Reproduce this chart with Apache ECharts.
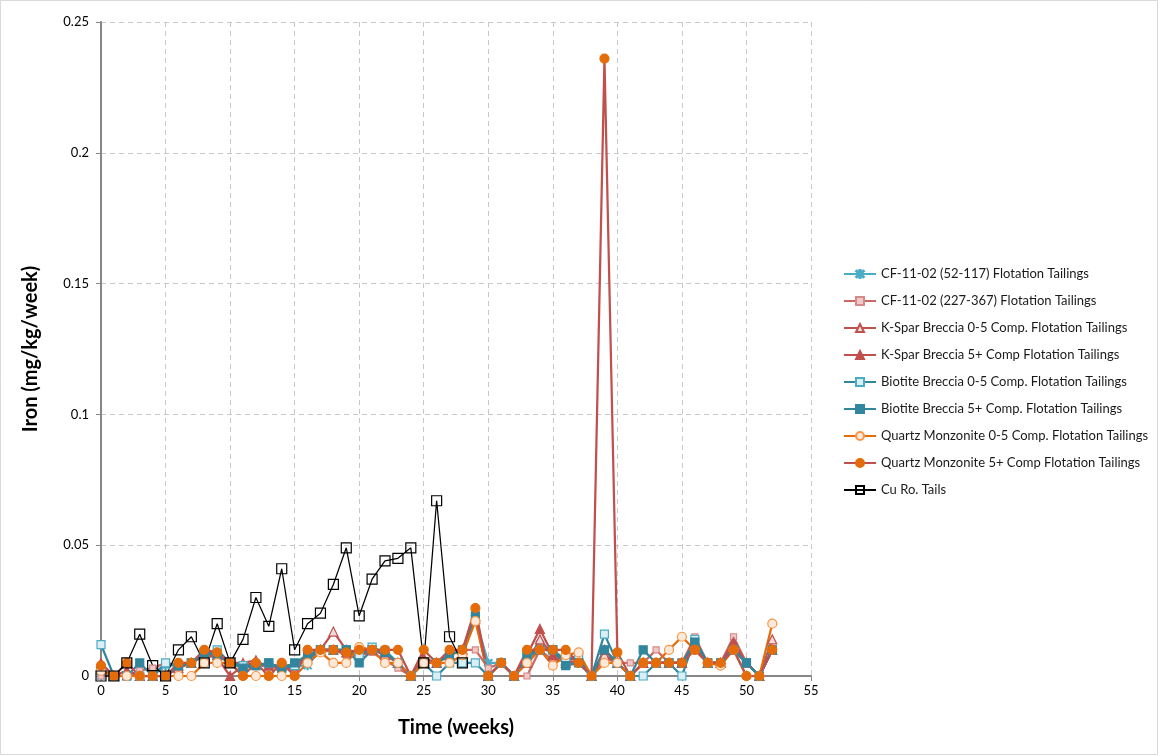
<!DOCTYPE html>
<html>
<head>
<meta charset="utf-8">
<script src="https://cdn.jsdelivr.net/npm/echarts@6/dist/echarts.min.js"></script>
<style>
  html, body { margin: 0; padding: 0; background: #ffffff; }
  #chart { width: 1159px; height: 756px; }
</style>
</head>
<body>
<div id="chart"></div>
<script>
// Weekly iron release (mg/kg/week) from kinetic test cells
const weeks = [0,1,2,3,4,5,6,7,8,9,10,11,12,13,14,15,16,17,18,19,20,21,22,23,24,25,26,
  27,28,29,30,31,32,33,34,35,36,37,38,39,40,41,42,43,44,45,46,47,48,49,50,51,52];
const cuWeeks = [0,1,2,3,4,5,6,7,8,9,10,11,12,13,14,15,16,17,18,19,20,21,22,23,24,25,26,27,28];

const seriesNames = [
  'CF-11-02 (52-117) Flotation Tailings',
  'CF-11-02 (227-367) Flotation Tailings',
  'K-Spar Breccia 0-5 Comp. Flotation Tailings',
  'K-Spar Breccia 5+ Comp Flotation Tailings',
  'Biotite Breccia 0-5 Comp. Flotation Tailings',
  'Biotite Breccia 5+ Comp. Flotation Tailings',
  'Quartz Monzonite 0-5 Comp. Flotation Tailings',
  'Quartz Monzonite 5+ Comp Flotation Tailings',
  'Cu Ro. Tails'
];

const cf52 = [0,0,0,0,0,0.004,0.004,0.005,0.008,0.009,0.005,0.004,0.004,0.004,0.004,0.004,0.004,0.010,0.010,0.010,
  0.008,0.010,0.010,0.005,0,0.005,0.005,0.008,0.010,0.022,0.005,0.005,0,0.008,0.012,0.008,0.005,0.005,0,0.010,
  0.005,0,0.005,0.005,0.005,0.005,0.013,0.005,0.005,0.010,0.005,0,0.010];
const cf227 = [0,0,0,0.002,0.003,0.005,0.004,0.005,0.008,0.008,0.005,0.004,0.005,0.003,0.004,0.003,0.008,0.009,0.010,0.008,
  0.008,0.009,0.006,0.003,0,0.005,0.005,0.008,0.010,0.010,0.003,0.005,0,0,0.010,0.006,0.006,0.007,0,0.007,
  0.005,0.005,0.005,0.010,0.005,0.005,0.015,0.005,0.005,0.015,0.005,0,0.010];
const kspar05 = [0.004,0,0.002,0,0,0,0.003,0.005,0.008,0.008,0.005,0.005,0.006,0.003,0.004,0.002,0.008,0.010,0.017,0.010,
  0.009,0.010,0.008,0.005,0,0.005,0.005,0.008,0.010,0.022,0,0.005,0,0.005,0.014,0.008,0.006,0.007,0,0.008,
  0.005,0,0.005,0.005,0.005,0.005,0.012,0.005,0.005,0.012,0.005,0,0.014];
const kspar5p = [0.005,0,0.002,0,0,0,0.004,0.005,0.008,0.007,0,0.004,0.005,0.004,0.004,0.004,0.008,0.010,0.010,0.009,
  0.008,0.010,0.009,0.005,0,0.007,0.005,0.008,0.010,0.023,0,0.005,0,0.008,0.018,0.008,0.005,0.006,0,0.010,
  0.005,0,0.005,0.005,0.005,0.005,0.013,0.005,0.005,0.013,0.005,0,0.010];
const bio05 = [0.012,0,0,0,0,0.005,0.004,0.005,0.008,0.010,0.005,0.004,0.004,0.005,0.003,0.004,0.006,0.010,0.010,0.010,
  0.008,0.011,0.009,0.005,0,0.005,0,0.005,0.005,0.005,0,0.005,0,0.007,0.010,0.010,0.006,0.008,0,0.016,
  0.005,0,0,0.005,0.005,0,0.014,0.005,0.005,0.010,0.005,0,0.010];
const bio5p = [0.002,0,0,0.005,0,0,0.004,0.005,0.009,0.008,0.005,0.003,0.004,0.005,0.003,0.005,0.008,0.010,0.010,0.010,
  0.005,0.010,0.009,0.005,0,0.005,0.005,0.008,0.010,0.023,0,0.005,0,0.008,0.010,0.010,0.004,0.005,0,0.010,
  0.005,0,0.010,0.005,0.005,0.005,0.013,0.005,0.005,0.010,0.005,0,0.010];
const qm05 = [0.002,0,0,0,0,0,0,0,0.005,0.005,0.005,0,0,0,0,0,0.005,0.009,0.005,0.005,
  0.011,0.010,0.005,0.005,0,0.005,0.005,0.005,0.008,0.021,0,0.005,0,0.005,0.010,0.004,0.008,0.009,0,0.005,
  0.005,0,0.005,0.005,0.010,0.015,0.010,0.005,0.004,0.010,0,0,0.020];
const qm5p = [0.004,0,0.005,0,0,0,0.005,0.005,0.010,0.009,0.005,0,0.005,0,0.005,0,0.010,0.010,0.010,0.009,
  0.010,0.010,0.010,0.010,0,0.010,0.005,0.010,0.010,0.026,0,0.005,0,0.010,0.010,0.010,0.010,0.005,0,0.236,
  0.009,0,0.005,0.005,0.005,0.005,0.010,0.005,0.005,0.010,0,0,0.010];
const cuRo = [0,0,0.005,0.016,0.004,0,0.010,0.015,0.005,0.020,0.005,0.014,0.030,0.019,0.041,0.010,0.020,0.024,0.035,0.049,
  0.023,0.037,0.044,0.045,0.049,0.005,0.067,0.015,0.005];

const xTicks = [0, 5, 10, 15, 20, 25, 30, 35, 40, 45, 50, 55];
const yTicks = [0, 0.05, 0.1, 0.15, 0.2, 0.25];

const asterisk = 'path://M-0.6,-5L0.6,-5L0.6,5L-0.6,5Z' +
  'M-3.58,-4.42L4.42,3.58L3.58,4.42L-4.42,-3.58Z' +
  'M-3.58,4.42L4.42,-3.58L3.58,-4.42L-4.42,3.58Z';

function pairs(xs, ys) {
  return ys.map((v, i) => [xs[i], v]);
}

function lineSeries(name, xs, ys, lineColor, symbol, size, fill, border, width) {
  return {
    name: name,
    type: 'line',
    data: pairs(xs, ys),
    symbol: symbol,
    symbolSize: size,
    showAllSymbol: true,
    lineStyle: { color: lineColor, width: width },
    itemStyle: { color: fill, borderColor: border, borderWidth: 1.2 },
    emphasis: { disabled: true },
    animation: false
  };
}

const series = [
  lineSeries(seriesNames[0], weeks, cf52, '#4BACC6', asterisk, 8, '#4BACC6', '#4BACC6', 2.25),
  lineSeries(seriesNames[1], weeks, cf227, '#CD6764', 'rect', 6, '#F2C7C6', '#D48A88', 2.25),
  lineSeries(seriesNames[2], weeks, kspar05, '#C0504D', 'triangle', 9, '#F2DCDB', '#C0504D', 2.25),
  lineSeries(seriesNames[3], weeks, kspar5p, '#C0504D', 'triangle', 9, '#C0504D', '#C0504D', 2.25),
  lineSeries(seriesNames[4], weeks, bio05, '#31859C', 'rect', 8, '#DAEEF3', '#4BACC6', 2.25),
  lineSeries(seriesNames[5], weeks, bio5p, '#31859C', 'rect', 8, '#31859C', '#31859C', 2.25),
  lineSeries(seriesNames[6], weeks, qm05, '#E46C0A', 'circle', 9, '#FDE9D9', '#F79646', 2.25),
  lineSeries(seriesNames[7], weeks, qm5p, '#C0504D', 'circle', 9, '#E46C0A', '#E46C0A', 2.25),
  lineSeries(seriesNames[8], cuWeeks, cuRo, '#000000', 'rect', 10, 'rgba(0,0,0,0)', '#000000', 1.25)
];

const fontFamily = 'Lato, "Open Sans", sans-serif';

const chart = echarts.init(document.getElementById('chart'), null, { renderer: 'canvas' });
chart.setOption({
  backgroundColor: '#ffffff',
  animation: false,
  textStyle: { fontFamily: fontFamily },
  graphic: [{
    type: 'rect',
    shape: { x: 0.5, y: 0.5, width: 1157, height: 754 },
    style: { fill: 'none', stroke: '#D9D9D9', lineWidth: 1 },
    silent: true
  }],
  grid: { left: 101, right: 348, top: 22, bottom: 80, containLabel: false },
  legend: {
    orient: 'vertical',
    left: 838,
    top: 262,
    itemWidth: 32,
    itemHeight: 10,
    itemGap: 13,
    data: seriesNames,
    textStyle: { fontFamily: fontFamily, fontSize: 13, lineHeight: 14, color: '#1a1a1a' }
  },
  xAxis: {
    type: 'value',
    min: xTicks[0],
    max: xTicks[xTicks.length - 1],
    interval: 5,
    name: 'Time (weeks)',
    nameLocation: 'middle',
    nameGap: 42,
    nameTextStyle: { fontFamily: fontFamily, fontSize: 20, fontWeight: 'bold', color: '#000' },
    axisLine: { show: true, onZero: false, lineStyle: { color: '#868686', width: 2 } },
    axisTick: { show: true, length: 5, lineStyle: { color: '#868686' } },
    axisLabel: { fontFamily: fontFamily, fontSize: 13, color: '#000', margin: 8 },
    splitLine: { show: true, lineStyle: { color: '#C8C8C8', type: [5, 4], width: 1 } }
  },
  yAxis: {
    type: 'value',
    min: yTicks[0],
    max: yTicks[yTicks.length - 1],
    interval: 0.05,
    name: 'Iron (mg/kg/week)',
    nameLocation: 'middle',
    nameGap: 60,
    nameTextStyle: { fontFamily: fontFamily, fontSize: 20, fontWeight: 'bold', color: '#000' },
    axisLine: { show: true, lineStyle: { color: '#868686', width: 2 } },
    axisTick: { show: true, length: 5, lineStyle: { color: '#868686' } },
    axisLabel: { fontFamily: fontFamily, fontSize: 13, color: '#000', margin: 12 },
    splitLine: { show: true, lineStyle: { color: '#C8C8C8', type: [5, 4], width: 1 } }
  },
  series: series
});
</script>
</body>
</html>
